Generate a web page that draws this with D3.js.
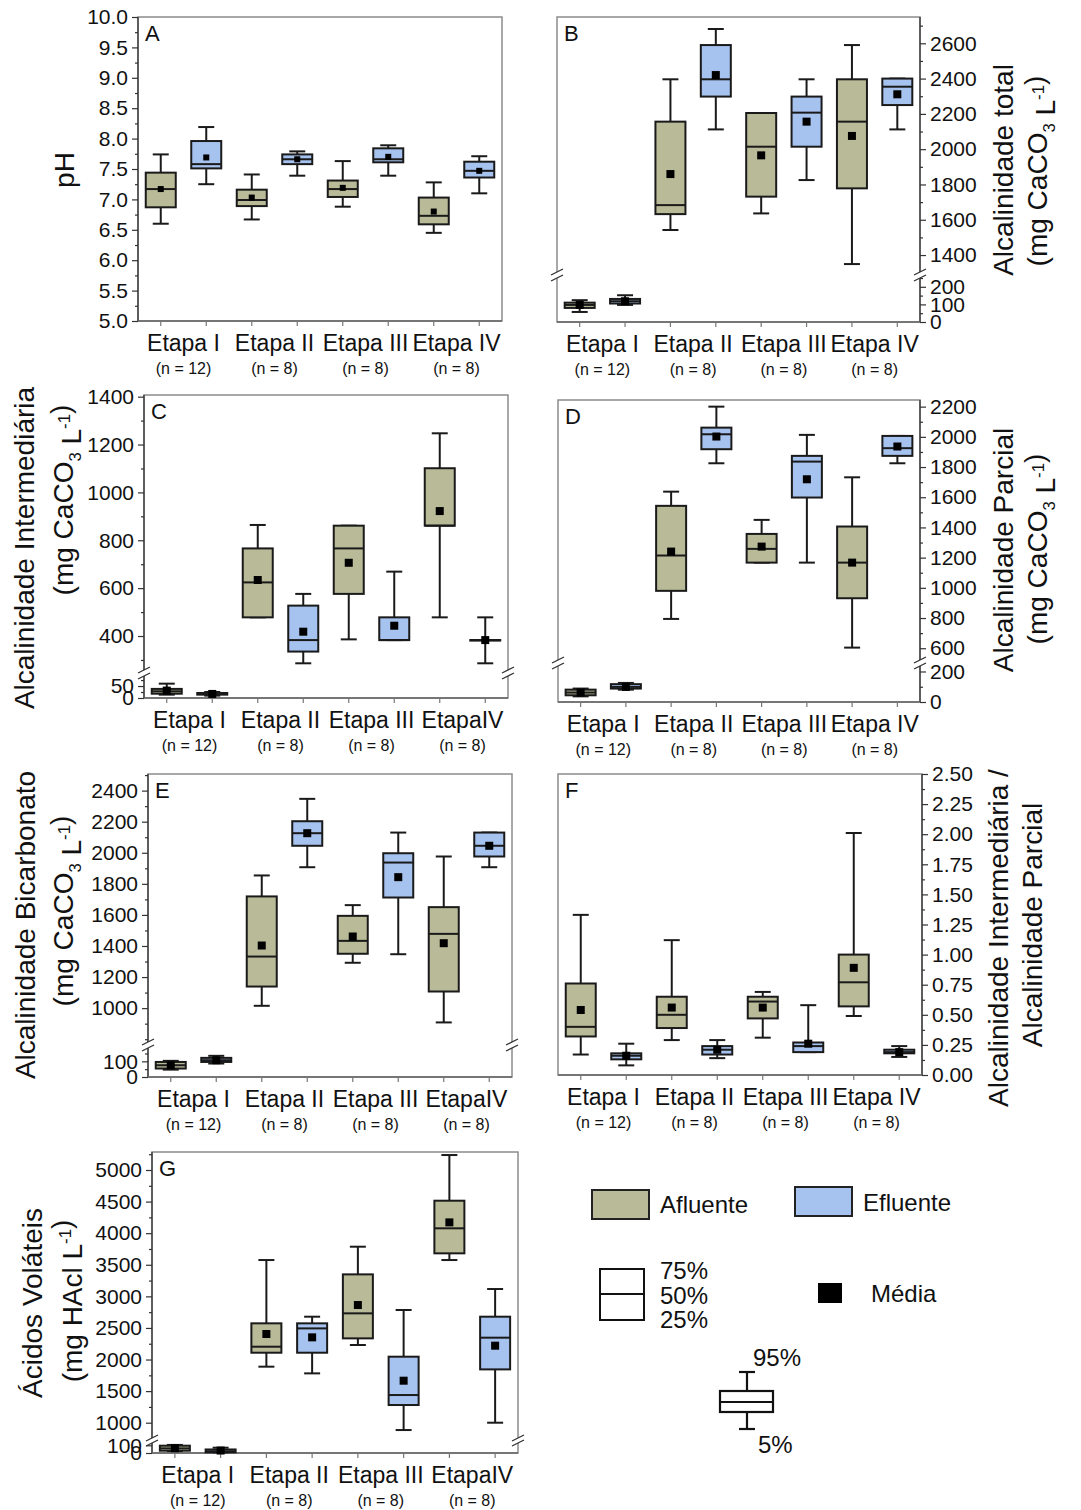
<!DOCTYPE html>
<html><head><meta charset="utf-8">
<script src="https://cdn.jsdelivr.net/npm/d3@7"></script>
<style>
body{margin:0;background:#fff}
svg{display:block}
text{font-family:"Liberation Sans",Arial,sans-serif;fill:#111}
</style>
</head><body>
<svg id="chart" width="1081" height="1510"></svg>
<script>
// ---------------- DATA ----------------
// each stats entry: [p5, q1, median, q3, p95]
const etapas = ["Etapa I", "Etapa II", "Etapa III", "Etapa IV"];
const etapasJoined = ["Etapa I", "Etapa II", "Etapa III", "EtapaIV"];
const nLabels = ["(n = 12)", "(n = 8)", "(n = 8)", "(n = 8)"];
const groups = ["Afluente", "Efluente"];

// A - pH
const phAfluente = [[6.60,6.87,7.17,7.44,7.74],[6.67,6.89,6.99,7.16,7.41],[6.88,7.04,7.17,7.31,7.63],[6.45,6.59,6.73,7.03,7.28]];
const phAfluenteMean = [7.17,7.03,7.19,6.80];
const phEfluente = [[7.25,7.51,7.58,7.96,8.19],[7.39,7.58,7.66,7.74,7.79],[7.39,7.61,7.66,7.84,7.89],[7.10,7.36,7.47,7.62,7.71]];
const phEfluenteMean = [7.69,7.66,7.70,7.47];
const phTicks = [5.0,5.5,6.0,6.5,7.0,7.5,8.0,8.5,9.0,9.5,10.0];

// B - Alcalinidade total
const atAfluente = [[57,80,97,110,124],[1542,1632,1683,2156,2396],[1636,1731,2014,2205,2205],[1349,1778,2156,2396,2590]];
const atAfluenteMean = [97,1859,1965,2075];
const atEfluente = [[97,105,118,131,152],[2112,2298,2396,2590,2681],[1825,2014,2207,2298,2396],[2112,2250,2354,2400,2400]];
const atEfluenteMean = [118,2420,2156,2311];
const atTicksLow = [0,100,200];
const atTicksHigh = [1400,1600,1800,2000,2200,2400,2600];

// C - Alcalinidade Intermediária
const aiAfluente = [[14,18,28,38,60],[478,478,624,766,864],[386,576,766,861,861],[478,861,861,1101,1247]];
const aiAfluenteMean = [31,634,706,922];
const aiEfluente = [[10,14,18,21,25],[286,335,383,527,576],[383,383,383,478,669],[286,383,383,383,478]];
const aiEfluenteMean = [17,418,443,383];
const aiTicksLow = [0,50];
const aiTicksHigh = [400,600,800,1000,1200,1400];

// D - Alcalinidade Parcial
const apAfluente = [[37,44,62,81,88],[794,980,1214,1543,1637],[1167,1167,1258,1357,1450],[604,931,1167,1406,1732]];
const apAfluenteMean = [62,1240,1273,1167];
const apEfluente = [[81,88,99,117,125],[1825,1918,2017,2061,2200],[1167,1598,1836,1874,2013],[1825,1874,1925,2006,2006]];
const apEfluenteMean = [99,2002,1719,1936];
const apTicksLow = [0,200];
const apTicksHigh = [600,800,1000,1200,1400,1600,1800,2000,2200];

// E - Alcalinidade Bicarbonato
const abAfluente = [[47,54,75,96,103],[1015,1139,1332,1719,1854],[1292,1350,1433,1594,1663],[908,1107,1478,1650,1976]];
const abAfluenteMean = [75,1403,1461,1418];
const abEfluente = [[86,96,107,122,135],[1907,2045,2126,2203,2347],[1347,1712,1937,1997,2130],[1907,1976,2045,2130,2130]];
const abEfluenteMean = [107,2126,1843,2045];
const abTicksLow = [0,100];
const abTicksHigh = [1000,1200,1400,1600,1800,2000,2200,2400];

// F - AI / AP
const rAfluente = [[0.17,0.32,0.40,0.76,1.33],[0.29,0.39,0.50,0.65,1.12],[0.31,0.47,0.61,0.65,0.69],[0.49,0.57,0.77,1.00,2.01]];
const rAfluenteMean = [0.54,0.56,0.56,0.89];
const rEfluente = [[0.08,0.13,0.16,0.18,0.26],[0.14,0.17,0.21,0.24,0.29],[0.19,0.19,0.24,0.27,0.58],[0.15,0.18,0.19,0.21,0.24]];
const rEfluenteMean = [0.16,0.21,0.26,0.19];
const rTicks = [0,0.25,0.5,0.75,1.0,1.25,1.5,1.75,2.0,2.25,2.5];

// G - Ácidos Voláteis
const avAfluente = [[25,30,60,95,105],[1887,2108,2203,2573,3575],[2230,2335,2731,3348,3786],[3575,3681,4077,4514,5237]];
const avAfluenteMean = [62,2404,2863,4171];
const avEfluente = [[9,9,23,46,69],[1781,2108,2493,2573,2678],[884,1280,1438,2045,2784],[1000,1844,2346,2678,3116]];
const avEfluenteMean = [32,2351,1665,2219];
const avTicksLow = [0,100];
const avTicksHigh = [1000,1500,2000,2500,3000,3500,4000,4500,5000];

// ---------------- DRAWING ----------------
const FONT = '"Liberation Sans", Arial, sans-serif';
const AFL_COLOR = "#b9bb98", EFL_COLOR = "#a6c2ef";
const svg = d3.select("#chart");

const UNIT = [{t:"(mg CaCO"},{t:"3",sub:true},{t:" L"},{t:"-1",sup:true},{t:")"}];
const UNIT_HAC = [{t:"(mg HAcl L"},{t:"-1",sup:true},{t:")"}];

const panels = [
  {letter:"A", frame:[138,17,502,321], side:"left", cats:etapas,
   afl:phAfluente, aflMean:phAfluenteMean, efl:phEfluente, eflMean:phEfluenteMean,
   domain:[5,10], ticks:phTicks, fmt:d3.format(".1f"), minorStep:0.25, meanSize:6,
   titles:[{parts:[{t:"pH"}], x:74, y:170}]},
  {letter:"B", frame:[557,17,920,322], side:"right", cats:etapas,
   afl:atAfluente, aflMean:atAfluenteMean, efl:atEfluente, eflMean:atEfluenteMean,
   lower:[0,250], upper:[1304,2749], brk:{at:44, gap:6}, lowTicks:atTicksLow, highTicks:atTicksHigh,
   lowMinor:50, highMinor:100, fmt:d3.format("d"),
   titles:[{parts:[{t:"Alcalinidade total"}], x:1013, y:170},{parts:UNIT, x:1047, y:171}]},
  {letter:"C", frame:[144,395,508,698], side:"left", cats:etapasJoined,
   afl:aiAfluente, aflMean:aiAfluenteMean, efl:aiEfluente, eflMean:aiEfluenteMean,
   lower:[0,92], upper:[258,1407], brk:{at:22, gap:6}, lowTicks:aiTicksLow, highTicks:aiTicksHigh,
   lowMinor:25, highMinor:100, fmt:d3.format("d"),
   titles:[{parts:[{t:"Alcalinidade Intermediária"}], x:34, y:548},{parts:UNIT, x:73, y:500}]},
  {letter:"D", frame:[558,400,920,702], side:"right", cats:etapas,
   afl:apAfluente, aflMean:apAfluenteMean, efl:apEfluente, eflMean:apEfluenteMean,
   lower:[0,236], upper:[522,2244], brk:{at:36, gap:6}, lowTicks:apTicksLow, highTicks:apTicksHigh,
   lowMinor:100, highMinor:100, fmt:d3.format("d"),
   titles:[{parts:[{t:"Alcalinidade Parcial"}], x:1013, y:550},{parts:UNIT, x:1047, y:549}]},
  {letter:"E", frame:[148,774,512,1077], side:"left", cats:etapasJoined,
   afl:abAfluente, aflMean:abAfluenteMean, efl:abEfluente, eflMean:abEfluenteMean,
   lower:[0,185], upper:[782,2507], brk:{at:29, gap:6}, lowTicks:abTicksLow, highTicks:abTicksHigh,
   lowMinor:50, highMinor:100, fmt:d3.format("d"),
   titles:[{parts:[{t:"Alcalinidade Bicarbonato"}], x:35, y:925},{parts:UNIT, x:73, y:911}]},
  {letter:"F", frame:[558,774,922,1075], side:"right", cats:etapas,
   afl:rAfluente, aflMean:rAfluenteMean, efl:rEfluente, eflMean:rEfluenteMean,
   domain:[0,2.5], ticks:rTicks, fmt:d3.format(".2f"), minorStep:0.125,
   titles:[{parts:[{t:"Alcalinidade Intermediária /"}], x:1008, y:938},{parts:[{t:"Alcalinidade Parcial"}], x:1042, y:925}]},
  {letter:"G", frame:[152,1152,518,1453], side:"left", cats:etapasJoined,
   afl:avAfluente, aflMean:avAfluenteMean, efl:avEfluente, eflMean:avEfluenteMean,
   lower:[0,130], upper:[758,5285], brk:{at:10, gap:5}, lowTicks:avTicksLow, highTicks:avTicksHigh,
   lowMinor:null, highMinor:250, fmt:d3.format("d"),
   titles:[{parts:[{t:"Ácidos Voláteis"}], x:42, y:1303},{parts:UNIT_HAC, x:82, y:1301}]}
];

function addParts(textSel, parts){
  parts.forEach(p => {
    const ts = textSel.append("tspan").text(p.t);
    if (p.sub) { ts.attr("font-size","60%").attr("dy", 8); textSel.append("tspan").attr("dy",-8).text(""); }
    if (p.sup) { ts.attr("font-size","60%").attr("dy", -11); textSel.append("tspan").attr("dy",11).text(""); }
  });
}

function minorValues(dom, step){
  const out = [];
  if (!step) return out;
  for (let v = Math.ceil(dom[0]/step)*step; v <= dom[1]+1e-9; v += step) out.push(+v.toFixed(6));
  return out;
}

function styleAxis(ag){
  ag.attr("font-size",21).attr("font-family",FONT);
  ag.select(".domain").remove();
  ag.selectAll("text").attr("fill","#111");
  ag.selectAll("line").attr("stroke","#333").attr("stroke-width",1.2);
}

panels.forEach(p => {
  const [x0,y0,x1,y1] = p.frame;
  const g = svg.append("g");
  const x = d3.scaleBand().domain(d3.range(8)).range([x0,x1]);
  const cx = k => x(k) + x.bandwidth()/2;

  let segs, y;
  if (p.brk) {
    const lower = d3.scaleLinear().domain(p.lower).range([y1, y1 - p.brk.at]);
    const upper = d3.scaleLinear().domain(p.upper).range([y1 - p.brk.at - p.brk.gap, y0]);
    segs = [{s:lower, ticks:p.lowTicks, minor:p.lowMinor},{s:upper, ticks:p.highTicks, minor:p.highMinor}];
    y = v => v <= p.lower[1] ? lower(v) : upper(v);
  } else {
    const s = d3.scaleLinear().domain(p.domain).range([y1,y0]);
    segs = [{s, ticks:p.ticks, minor:p.minorStep}];
    y = s;
  }

  // frame
  g.append("rect").attr("x",x0).attr("y",y0).attr("width",x1-x0).attr("height",y1-y0)
    .attr("fill","none").attr("stroke","#8c8c8c").attr("stroke-width",1.5);
  const ax = p.side === "left" ? x0 : x1;
  g.append("line").attr("x1",ax).attr("x2",ax).attr("y1",y0).attr("y2",y1)
    .attr("stroke","#444").attr("stroke-width",1.5);
  g.append("line").attr("x1",x0).attr("x2",x1).attr("y1",y1).attr("y2",y1)
    .attr("stroke","#666").attr("stroke-width",1.5);

  // value axes
  segs.forEach(sg => {
    const mk = p.side === "left" ? d3.axisLeft : d3.axisRight;
    if (sg.minor) {
      const mv = minorValues(sg.s.domain(), sg.minor).filter(v => !sg.ticks.some(t => Math.abs(t-v)<1e-6));
      const ma = g.append("g").attr("transform",`translate(${ax},0)`)
        .call(mk(sg.s).tickValues(mv).tickSize(3).tickFormat(""));
      styleAxis(ma);
    }
    const ag = g.append("g").attr("transform",`translate(${ax},0)`)
      .call(mk(sg.s).tickValues(sg.ticks).tickSize(6).tickPadding(4).tickFormat(p.fmt));
    styleAxis(ag);
  });

  // break marks
  if (p.brk) {
    const yb = y1 - p.brk.at - p.brk.gap/2;
    [x0,x1].forEach(xe => {
      g.append("rect").attr("x",xe-3).attr("y",yb-p.brk.gap/2).attr("width",6).attr("height",p.brk.gap).attr("fill","#fff");
      [-p.brk.gap/2, p.brk.gap/2].forEach(d => {
        g.append("line").attr("x1",xe-6).attr("y1",yb+d+3).attr("x2",xe+6).attr("y2",yb+d-3)
          .attr("stroke","#333").attr("stroke-width",1.3);
      });
    });
  }

  // x ticks
  const xa = g.append("g").attr("transform",`translate(0,${y1})`)
    .call(d3.axisBottom(x).tickSize(5).tickFormat(""));
  xa.select(".domain").remove();
  xa.selectAll("line").attr("stroke","#777").attr("stroke-width",1.2);

  // category labels
  p.cats.forEach((c,i) => {
    const xc = (cx(2*i) + cx(2*i+1)) / 2;
    g.append("text").attr("x",xc).attr("y",y1+30).attr("text-anchor","middle")
      .attr("font-size",23).text(c);
    g.append("text").attr("x",xc).attr("y",y1+53).attr("text-anchor","middle")
      .attr("font-size",16).attr("fill","#222").text(nLabels[i]);
  });

  // boxes
  const BOX_W = 30, CAP_W = 16, MS = p.meanSize || 8;
  [[p.afl,p.aflMean,AFL_COLOR],[p.efl,p.eflMean,EFL_COLOR]].forEach(([arr,means,col],gi) => {
    arr.forEach((st,i) => {
      const c = cx(2*i+gi);
      const [lo,q1,md,q3,hi] = st;
      const bg = g.append("g").attr("stroke","#1a1a1a").attr("stroke-width",2);
      bg.append("line").attr("x1",c).attr("x2",c).attr("y1",y(lo)).attr("y2",y(hi));
      bg.append("line").attr("x1",c-CAP_W/2).attr("x2",c+CAP_W/2).attr("y1",y(lo)).attr("y2",y(lo));
      bg.append("line").attr("x1",c-CAP_W/2).attr("x2",c+CAP_W/2).attr("y1",y(hi)).attr("y2",y(hi));
      bg.append("rect").attr("x",c-BOX_W/2).attr("width",BOX_W)
        .attr("y",y(q3)).attr("height",Math.max(0.5, y(q1)-y(q3))).attr("fill",col);
      bg.append("line").attr("x1",c-BOX_W/2).attr("x2",c+BOX_W/2).attr("y1",y(md)).attr("y2",y(md));
      g.append("rect").attr("x",c-MS/2).attr("y",y(means[i])-MS/2).attr("width",MS).attr("height",MS).attr("fill","#000");
    });
  });

  // panel letter
  g.append("text").attr("x",x0+7).attr("y",y0+24).attr("font-size",22).text(p.letter);

  // titles
  p.titles.forEach(t => {
    const tx = g.append("text").attr("transform",`translate(${t.x},${t.y}) rotate(-90)`)
      .attr("text-anchor","middle").attr("font-size",28);
    addParts(tx, t.parts);
  });
});

// ---------------- LEGEND ----------------
const lg = svg.append("g").attr("font-size",24);
lg.append("rect").attr("x",592).attr("y",1190).attr("width",57).attr("height",29).attr("fill",AFL_COLOR).attr("stroke","#222").attr("stroke-width",2);
lg.append("text").attr("x",660).attr("y",1213).text(groups[0]);
lg.append("rect").attr("x",795).attr("y",1187).attr("width",57).attr("height",29).attr("fill",EFL_COLOR).attr("stroke","#222").attr("stroke-width",2);
lg.append("text").attr("x",863).attr("y",1211).text(groups[1]);

lg.append("rect").attr("x",600).attr("y",1269).attr("width",44).attr("height",51).attr("fill","#fff").attr("stroke","#111").attr("stroke-width",2);
lg.append("line").attr("x1",600).attr("x2",644).attr("y1",1294).attr("y2",1294).attr("stroke","#111").attr("stroke-width",2);
lg.append("text").attr("x",660).attr("y",1279).text("75%");
lg.append("text").attr("x",660).attr("y",1304).text("50%");
lg.append("text").attr("x",660).attr("y",1328).text("25%");

lg.append("rect").attr("x",818).attr("y",1283).attr("width",24).attr("height",20).attr("fill","#000");
lg.append("text").attr("x",871).attr("y",1302).text("Média");

const sb = lg.append("g").attr("stroke","#111").attr("stroke-width",2.2);
sb.append("line").attr("x1",747).attr("x2",747).attr("y1",1372).attr("y2",1429);
sb.append("line").attr("x1",739).attr("x2",755).attr("y1",1372).attr("y2",1372);
sb.append("line").attr("x1",739).attr("x2",755).attr("y1",1429).attr("y2",1429);
sb.append("rect").attr("x",720).attr("y",1391).attr("width",53).attr("height",21).attr("fill","#fff");
sb.append("line").attr("x1",720).attr("x2",773).attr("y1",1402).attr("y2",1402);
lg.append("text").attr("x",753).attr("y",1366).text("95%");
lg.append("text").attr("x",758).attr("y",1453).text("5%");
</script>
</body></html>
